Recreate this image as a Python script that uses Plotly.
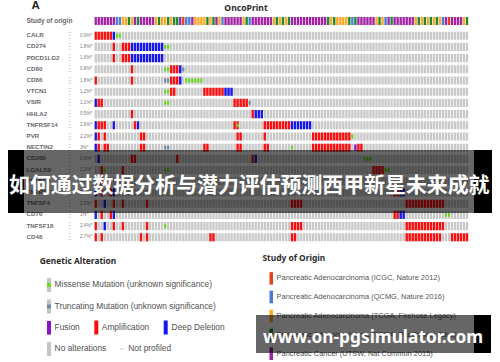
import plotly.graph_objects as go

# ---------- data ----------
n_samples = 124
genes = ["CALR", "CD274", "PDCD1LG2", "CD80", "CD86", "VTCN1", "VSIR", "HHLA2", "TNFRSF14", "PVR",
         "NECTIN2", "CD200", "LGALS9", "TNFSF9", "TNFRSF4", "TNFSF4", "CD70", "TNFSF18", "CD48"]
percent = ["0.9%*", "1.8%*", "1.6%*", "0.8%*", "1.6%*", "1.2%*", "1.1%*", "0.5%*", "2.6%*", "2.2%*",
           "3%*", "0.9%*", "1.1%*", "1.1%*", "1%*", "2.3%*", "1%*", "2.4%*", "2.7%*"]

study_runs = [("P",7),("B",2),("O",2),("G",1),("O",1),("P",1),("G",1),("P",5),("O",1),("G",1),("O",2),("G",1),
              ("O",1),("G",2),("P",1),("R",1),("B",2),("P",1),("O",4),("G",1),("O",1),("G",1),("P",1),("O",1),
              ("B",1),("P",6),("O",1),("G",1),("B",1),("P",7),("O",1),("G",1),("O",1),("G",1),("O",1),("G",1),
              ("P",12),("G",1),("O",1),("G",1),("O",4),("G",1),("B",1),("G",1),("P",6),("O",1),("G",1),("O",1),
              ("B",1),("P",1),("G",1),("P",7),("O",1),("G",1),("O",1),("G",1),("O",1),("G",1),("O",1),("G",1),
              ("O",1),("B",1),("P",1),("R",1),("P",4),("O",1),("G",1)]

# gene -> list of (alteration, first sample, last sample)
alterations = {
 "CALR": [("amp",0,5),("del",6,6),("mis",7,8)],
 "CD274": [("amp",6,6),("amp",9,11),("del",12,22),("mis",23,24)],
 "PDCD1LG2": [("amp",6,6),("amp",9,11),("del",12,22)],
 "CD80": [("amp",12,12),("mis",23,24),("amp",25,27),("del",28,28),("trc",29,29)],
 "CD86": [("amp",0,0),("amp",12,12),("trc",23,24),("amp",25,27),("del",28,28),("mis",30,35)],
 "VTCN1": [("mis",23,24),("amp",25,26),("amp",36,42),("del",43,45)],
 "VSIR": [("del",0,0),("amp",1,2),("mis",23,24),("amp",46,50),("trc",51,51)],
 "HHLA2": [("amp",12,12),("amp",52,52),("del",53,55)],
 "TNFRSF14": [("del",0,0),("amp",1,3),("del",6,6),("amp",13,13),("del",14,14),("amp",46,47),("mis",47,47),
              ("amp",56,64),("del",65,71)],
 "PVR": [("del",0,0),("amp",1,1),("amp",3,3),("amp",15,16),("amp",47,48),("amp",56,56),("amp",72,84),("mis",85,85)],
 "NECTIN2": [("del",0,0),("amp",1,1),("amp",3,4),("amp",15,16),("trc",23,24),("amp",36,37),("amp",47,48),
             ("amp",56,57),("mis",65,65),("amp",72,84),("fus",86,86),("amp",87,88)],
 "CD200": [("del",1,1),("amp",12,13),("amp",27,27),("amp",52,52),("del",53,53),("mis",89,91)],
 "LGALS9": [("amp",2,2),("mis",3,3),("amp",9,9),("mis",23,24),("amp",92,95),("mis",96,97)],
 "TNFSF9": [("amp",2,2),("amp",9,9)],
 "TNFRSF4": [("del",0,0),("amp",2,2),("amp",5,5),("del",6,6),("amp",99,100),("del",101,102)],
 "TNFSF4": [("amp",0,0),("del",3,3),("amp",6,6),("amp",9,9),("amp",17,17),("amp",65,68),("amp",103,115)],
 "CD70": [("del",0,0),("amp",2,2),("amp",5,5),("del",6,6),("amp",99,100),("del",101,102),("mis",116,117)],
 "TNFSF18": [("amp",0,0),("del",3,3),("amp",6,6),("amp",9,9),("amp",17,17),("mis",23,23),("amp",65,68),("amp",103,115)],
 "CD48": [("amp",0,0),("amp",2,2),("amp",15,15),("amp",17,17),("amp",38,39),("amp",65,66),("amp",103,114),("amp",118,123)],
}

alt_legend = ["Missense Mutation (unknown significance)", "Truncating Mutation (unknown significance)",
              "Fusion", "Amplification", "Deep Deletion", "No alterations", "Not profiled"]
study_legend = ["Pancreatic Adenocarcinoma (ICGC, Nature 2012)", "Pancreatic Adenocarcinoma (QCMG, Nature 2016)",
                "Pancreatic Adenocarcinoma (TCGA, Firehose Legacy)", "Pancreatic Adenocarcinoma (TCGA, PanCancer Atlas)",
                "Pancreatic Cancer (UTSW, Nat Commun 2015)"]
headline = "如何通过数据分析与潜力评估预测西甲新星未来成就"
site = "www.on-pgsimulator.com"

# ---------- styles (alpha just below 1 keeps bar edges unsnapped) ----------
STUDY_COL = {"R": "rgba(232,64,26,0.99)", "B": "rgba(74,120,216,0.99)", "O": "rgba(255,165,31,0.99)",
             "G": "rgba(18,137,47,0.99)", "P": "rgba(163,31,163,0.99)"}
ALT_COL = {"amp": "rgba(255,10,10,0.99)", "del": "rgba(20,20,240,0.99)", "fus": "rgba(138,18,204,0.99)",
           "mis": "rgba(102,217,26,0.99)", "trc": "rgba(111,135,166,0.99)"}
GRAY, DIM = "rgba(200,200,200,0.99)", "#6a6a6a"
W, H = 500, 362
PITCH_ROW, ROW0 = 11.2, 35.7

fig = go.Figure()
def yrow(py):
    return (py - ROW0) / PITCH_ROW

BAR_W, BAR_H = 0.78, 0.72
def add_bars(xs, rows, color, width=BAR_W, height=BAR_H):
    fig.add_bar(x=xs, y=[height]*len(xs), base=[r - height/2 for r in rows], width=width,
                marker=dict(color=color, line=dict(width=0)), showlegend=False, hoverinfo="skip")

# study-of-origin strip
study = [k for k, c in study_runs for _ in range(c)]
study_row = yrow(21)
for key, col in STUDY_COL.items():
    xs = [i for i, s in enumerate(study) if s == key]
    add_bars(xs, [study_row]*len(xs), col)

# gray background cells
add_bars([i for _ in genes for i in range(n_samples)],
         [r for r in range(len(genes)) for _ in range(n_samples)], GRAY)

# alterations
for kind in ["amp", "del", "fus", "trc", "mis"]:
    xs, rows = [], []
    for r, g in enumerate(genes):
        for k, a, b in alterations[g]:
            if k == kind:
                xs += list(range(a, b + 1)); rows += [r]*(b - a + 1)
    if kind in ("mis", "trc"):
        add_bars(xs, rows, ALT_COL[kind], width=0.7, height=0.34)
    elif kind == "fus":
        add_bars(xs, rows, ALT_COL[kind], height=0.55)
    else:
        add_bars(xs, rows, ALT_COL[kind])

# page-coordinate text layer (stays below the banner shapes)
def text_trace(items, size, color, family="Liberation Sans", pos="middle right", bold=False):
    fig.add_scatter(x=[i[0] for i in items], y=[i[1] for i in items], text=[i[2] for i in items],
                    mode="text", textposition=pos, xaxis="x2", yaxis="y2", showlegend=False, hoverinfo="skip",
                    textfont=dict(size=size, color=color, family=family, weight="bold" if bold else "normal"))

row_py = [ROW0 + r*PITCH_ROW for r in range(len(genes))]
text_trace([(26.5, 21, "Study of origin")], 6.5, DIM, bold=True)
text_trace([(26.5, p, g) for p, g in zip(row_py, genes)], 6.2, DIM, bold=True)
text_trace([(69.6, 20.6, "⋮")] + [(69.6, p, "⋮") for p in row_py], 8, "#999999", pos="middle center", family="DejaVu Sans")
text_trace([(80, p, t) for p, t in zip(row_py, percent)], 4.6, "#777777")
text_trace([(31.5, 6.3, "A")], 11.5, "#222222", bold=True)
text_trace([(246, 9, "OncoPrint")], 8.6, "#2a2a2a", pos="middle center", family="Noto Sans", bold=True)
text_trace([(39.8, 261.7, "Genetic Alteration"), (262.5, 259, "Study of Origin")], 8.4, "#2a2a2a", family="Noto Sans", bold=True)
text_trace([(54.6, 285, alt_legend[0]), (54.6, 306.5, alt_legend[1]), (54.6, 327.8, alt_legend[2]),
            (101.8, 327.8, alt_legend[3]), (171.6, 327.8, alt_legend[4]), (54.6, 349, alt_legend[5]),
            (128.3, 349, alt_legend[6])], 8.4, "#505050")
text_trace([(276.6, y, t) for y, t in zip([278.4, 297, 316, 335, 353.7], study_legend)], 7.45, "#555555")

# shapes in page pixels
def rect(x0, y0, x1, y1, color):
    return dict(type="rect", xref="x2", yref="y2", x0=x0, y0=y0, x1=x1, y1=y1,
                fillcolor=color, line=dict(width=0), layer="above")
shapes = []
for py in [285, 306.5, 327.8, 349]:
    shapes.append(rect(47, py - 7, 51, py + 7, "#c4c4c4"))
shapes.append(rect(47, 283, 51, 287, ALT_COL["mis"]))
shapes.append(rect(47, 304.5, 51, 308.5, ALT_COL["trc"]))
shapes.append(rect(47, 321, 51, 334.5, ALT_COL["fus"]))
shapes.append(rect(94.3, 320.5, 98.3, 334.5, ALT_COL["amp"]))
shapes.append(rect(163.7, 320.5, 167.7, 334.5, ALT_COL["del"]))
shapes.append(rect(120, 348.6, 124, 349.4, "#bbbbbb"))
for y, c in zip([278.4, 297, 316, 335, 353.7], ["R", "B", "O", "G", "P"]):
    shapes.append(rect(269.5, y - 6.3, 273, y + 6.3, STUDY_COL[c]))
# banners
shapes += [rect(8, 150, 24, 213, "#000000"), rect(474, 150, 492, 213, "#000000"),
           rect(24, 150, 474, 213, "rgba(0,0,0,0.6)"),
           rect(256, 315, 474, 353, "rgba(0,0,0,0.6)"), rect(474, 315, 491, 353, "#000000")]

annotations = [
    dict(text=headline, xref="x2", yref="y2", x=249.5, y=183, showarrow=False, xanchor="center", yanchor="middle",
         font=dict(family="Noto Sans CJK SC", size=20.9, color="#ffffff", weight="bold")),
    dict(text=site, xref="x2", yref="y2", x=373, y=336, showarrow=False, xanchor="center", yanchor="middle",
         font=dict(family="Noto Sans", size=17.3, color="#ffffff", weight="bold")),
]

fig.update_layout(
    width=W, height=H, margin=dict(l=0, r=0, t=0, b=0), autosize=False,
    paper_bgcolor="#ffffff", plot_bgcolor="rgba(0,0,0,0)", barmode="overlay",
    shapes=shapes, annotations=annotations,
    xaxis=dict(domain=[94.2/W, 468.6/W], range=[-0.5, n_samples - 0.5], visible=False),
    yaxis=dict(domain=[1 - 243/H, 1 - 16/H], range=[yrow(243), yrow(16)], visible=False),
    xaxis2=dict(domain=[0, 1], range=[0, W], visible=False, anchor="y2"),
    yaxis2=dict(domain=[0, 1], range=[H, 0], visible=False, anchor="x2"),
)
fig.write_html("out.html", config={"displayModeBar": False},
               post_script="document.body.style.margin='0';document.documentElement.style.overflow='hidden';")
